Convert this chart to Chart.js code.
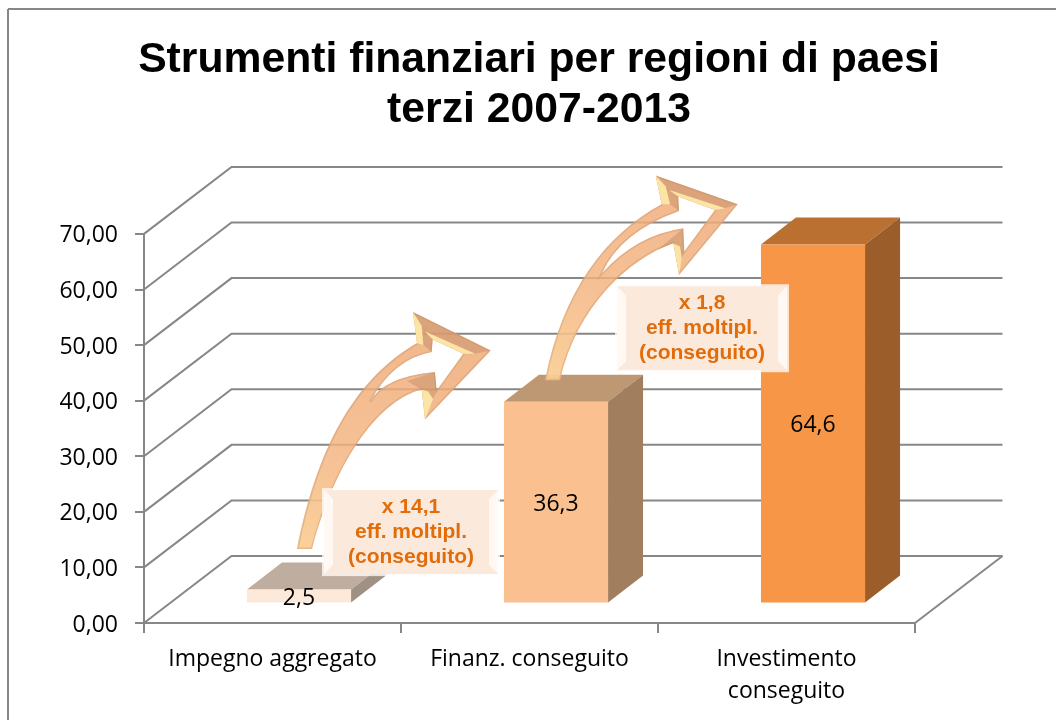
<!DOCTYPE html>
<html><head><meta charset="utf-8">
<style>html,body{margin:0;padding:0;background:#fff}canvas{display:block}</style>
<script src="https://cdn.jsdelivr.net/npm/chart.js@4"></script>
</head><body><canvas id="c" width="1056" height="720"></canvas>
<script>
const titleLines = ["Strumenti finanziari per regioni di paesi", "terzi 2007-2013"];
const categories = ["Impegno aggregato", "Finanz. conseguito", ["Investimento", "conseguito"]];
const values = [2.5, 36.3, 64.6];
const valueLabels = ["2,5", "36,3", "64,6"];
const frontColors = ["#FDE9D9", "#FAC08F", "#F79646"];
const topColors = ["#BFAE9F", "#BE9872", "#B97031"];
const sideColors = ["#9F9184", "#A17E5E", "#9B5E2B"];
const boxes = [
  {bar: 0, lines: ["x 14,1", "eff. moltipl.", "(conseguito)"], dx: 51.5, dy: -119, w: 174, h: 84},
  {bar: 1, lines: ["x 1,8", "eff. moltipl.", "(conseguito)"], dx: 87.5, dy: -135, w: 170, h: 84}
];
// arrow outlines relative to the left end of the tail
const arrow1 = {bar: 0, dx: 24.5, dy: -60,
  outer: [[0,0],[22,-110,62,-172,120,-206],[116,-237],[193.7,-198.7],[128,-129.7],[124.7,-159.7],[85,-150,40,-95,15,0]],
  hole: [[73,-147],[96,-190,134.7,-197],[135.7,-209.7],[166.3,-195.3],[139.7,-158.7],[138,-177],[86,-172,73,-147]],
  shade: [[[116,-237],[193.7,-198.7],[178,-195.3],[128,-217.7]], [[124.7,-223],[135.7,-209.7],[134.7,-197],[126.3,-204]], [[138,-177],[139.7,-158.7],[136,-150],[124.7,-159.7],[110,-168]]],
  light: [[[116,-237],[124.7,-223],[126.3,-204],[119,-206]], [[128,-217.7],[178,-195.3],[166.3,-195.3],[135.7,-209.7]], [[128,-129.7],[124.7,-159.7],[131.3,-157.7],[136,-150]]]};
const arrow2 = {bar: 1, dx: 15.5, dy: -41,
  outer: [[0,0],[18,-90,60,-145,116.7,-176],[110.7,-204.7],[192.7,-176],[134,-105.3],[128.3,-137],[85,-122,32,-75,15,0]],
  hole: [[57,-107],[75,-148,134,-169.3],[133.3,-183.7],[170,-170.3],[139.3,-128.7],[138.3,-152],[91,-145,57,-107]],
  shade: [[[110.7,-204.7],[192.7,-176],[180,-172],[124,-190.3]], [[120.7,-193.7],[133.3,-183.7],[134,-169.3],[125,-176]], [[138.3,-152],[139.3,-128.7],[135,-117],[128.3,-137],[112,-130]]],
  light: [[[110.7,-204.7],[120.7,-193.7],[125,-176],[116.7,-176]], [[124,-190.3],[180,-172],[170,-170.3],[133.3,-183.7]], [[134,-105.3],[128.3,-137],[135,-133.7],[136.7,-122]]]};

const DEPTH = {x: 87.5, y: -67}, SHIFT = {x: 26.5, y: -19.5}, BAR = {x: 35, y: -27};
const LINE = "#878787";

function seg(ctx, a, b, c, d) { ctx.beginPath(); ctx.moveTo(a, b); ctx.lineTo(c, d); ctx.stroke(); }
function poly(ctx, pts, fill) {
  ctx.beginPath(); pts.forEach((p, i) => i ? ctx.lineTo(p[0], p[1]) : ctx.moveTo(p[0], p[1]));
  ctx.closePath(); ctx.fillStyle = fill; ctx.fill();
}
function trace(ctx, path, ox, oy) {
  path.forEach((p, i) => {
    if (i === 0) ctx.moveTo(ox + p[0], oy + p[1]);
    else if (p.length === 2) ctx.lineTo(ox + p[0], oy + p[1]);
    else if (p.length === 4) ctx.quadraticCurveTo(ox + p[0], oy + p[1], ox + p[2], oy + p[3]);
    else ctx.bezierCurveTo(ox + p[0], oy + p[1], ox + p[2], oy + p[3], ox + p[4], oy + p[5]);
  });
  ctx.closePath();
}
function drawArrow(chart, a) {
  const ctx = chart.ctx, el = chart.getDatasetMeta(0).data[a.bar];
  const ox = el.x + a.dx, oy = el.y + a.dy;
  const both = () => { ctx.beginPath(); trace(ctx, a.outer, ox, oy); trace(ctx, a.hole, ox, oy); };
  ctx.save();
  both(); ctx.clip("evenodd");
  const g = ctx.createLinearGradient(ox, oy, ox + 120, oy - 200);
  g.addColorStop(0, "rgba(250,208,150,.95)"); g.addColorStop(.45, "rgba(244,178,126,.82)"); g.addColorStop(1, "rgba(240,172,122,.85)");
  ctx.fillStyle = g; ctx.fillRect(ox - 5, oy - 245, 210, 250);
  both(); ctx.lineWidth = 3; ctx.lineJoin = "miter"; ctx.strokeStyle = "rgba(200,150,110,.4)"; ctx.stroke();
  a.shade.forEach(l => poly(ctx, l.map(p => [ox + p[0], oy + p[1]]), "rgba(185,135,100,.42)"));
  a.light.forEach(l => poly(ctx, l.map(p => [ox + p[0], oy + p[1]]), "rgba(252,232,165,.95)"));
  ctx.restore();
}
function drawBox(chart, bx) {
  const ctx = chart.ctx, el = chart.getDatasetMeta(0).data[bx.bar];
  const x = el.x + bx.dx, y = el.y + bx.dy, w = bx.w, h = bx.h, b = 9;
  ctx.save();
  ctx.fillStyle = "rgba(255,255,255,.75)"; ctx.fillRect(x - 2, y - 2, w + 4, h + 4);
  ctx.fillStyle = "#FBE9DC"; ctx.fillRect(x, y, w, h);
  poly(ctx, [[x, y], [x + b, y + b], [x + b, y + h - b], [x, y + h]], "#FFF8F3");
  poly(ctx, [[x + w, y], [x + w - b, y + b], [x + w - b, y + h - b], [x + w, y + h]], "#FFF8F3");
  ctx.font = "bold 21px 'Liberation Sans'"; ctx.fillStyle = "#E36C0A";
  ctx.textAlign = "center"; ctx.textBaseline = "middle";
  bx.lines.forEach((t, i) => ctx.fillText(t, x + w / 2, y + h / 2 + (i - 1) * 25));
  ctx.restore();
}

const scene = {
  id: "scene",
  afterLayout(chart) { chart.titleBlock.left = 22; chart.titleBlock.right = 1056; },
  beforeDraw(chart) {
    const ctx = chart.ctx;
    ctx.save(); ctx.strokeStyle = LINE; ctx.lineWidth = 2;
    seg(ctx, 8, 720, 8, 9); seg(ctx, 8, 9, 1056, 9);
    ctx.restore();
  },
  beforeDatasetsDraw(chart) {
    const ctx = chart.ctx, { x, y } = chart.scales, a = chart.chartArea;
    ctx.save(); ctx.strokeStyle = LINE; ctx.lineWidth = 2;
    y.ticks.forEach(t => {
      const py = y.getPixelForValue(t.value);
      ctx.beginPath(); ctx.moveTo(a.left, py); ctx.lineTo(a.left + DEPTH.x, py + DEPTH.y);
      ctx.lineTo(a.right + DEPTH.x, py + DEPTH.y); ctx.stroke();
    });
    seg(ctx, a.right, a.bottom, a.right + DEPTH.x, a.bottom + DEPTH.y);
    ctx.restore();
    chart.getDatasetMeta(0).data.forEach((el, i) => {
      const l = el.x - el.width / 2 + SHIFT.x, r = el.x + el.width / 2 + SHIFT.x;
      const t = el.y + SHIFT.y, b = el.base + SHIFT.y;
      poly(ctx, [[l, t], [r, t], [r + BAR.x, t + BAR.y], [l + BAR.x, t + BAR.y]], topColors[i]);
      poly(ctx, [[r, t], [r + BAR.x, t + BAR.y], [r + BAR.x, b + BAR.y], [r, b]], sideColors[i]);
    });
    ctx.save(); ctx.translate(SHIFT.x, SHIFT.y);
  },
  afterDatasetsDraw(chart) {
    const ctx = chart.ctx;
    ctx.restore();
    drawArrow(chart, arrow1); drawArrow(chart, arrow2);
    boxes.forEach(b => drawBox(chart, b));
    ctx.save();
    ctx.font = "23px 'Open Sans'"; ctx.fillStyle = "#000"; ctx.textAlign = "center"; ctx.textBaseline = "middle";
    chart.getDatasetMeta(0).data.forEach((el, i) => {
      ctx.fillText(valueLabels[i], el.x + SHIFT.x, (el.y + el.base) / 2 + SHIFT.y + 2);
    });
    ctx.restore();
  }
};

new Chart(document.getElementById("c"), {
  type: "bar",
  data: { labels: categories, datasets: [{ data: values, backgroundColor: frontColors, borderWidth: 0,
    categoryPercentage: 1, barPercentage: 0.405 }] },
  plugins: [scene],
  options: {
    responsive: false, animation: false, events: [],
    layout: { padding: { left: 0, right: 141, top: 0, bottom: 0 } },
    plugins: {
      legend: { display: false }, tooltip: { enabled: false },
      title: { display: true, text: titleLines, color: "#000",
        font: { family: "'Liberation Sans'", size: 42.7, weight: "bold", lineHeight: 1.17 },
        padding: { top: 35, bottom: 99 } }
    },
    scales: {
      x: {
        afterFit(s) { s.height = 97; },
        grid: { drawOnChartArea: false, drawTicks: true, tickLength: 10, tickColor: LINE, lineWidth: 2, color: LINE },
        border: { color: LINE, width: 2 },
        ticks: { color: "#000", maxRotation: 0, autoSkip: false, padding: 10,
          font: { family: "'Open Sans'", size: 23, lineHeight: 1.4 } }
      },
      y: {
        min: 0, max: 70,
        afterFit(s) { s.width = 144; },
        grid: { drawOnChartArea: false, drawTicks: true, tickLength: 9, tickColor: LINE, lineWidth: 2, color: LINE },
        border: { color: LINE, width: 2 },
        ticks: { color: "#000", stepSize: 10, padding: 17, labelOffset: 2,
          font: { family: "'Open Sans'", size: 23 },
          callback: v => v.toFixed(2).replace(".", ",") }
      }
    }
  }
});
</script></body></html>
